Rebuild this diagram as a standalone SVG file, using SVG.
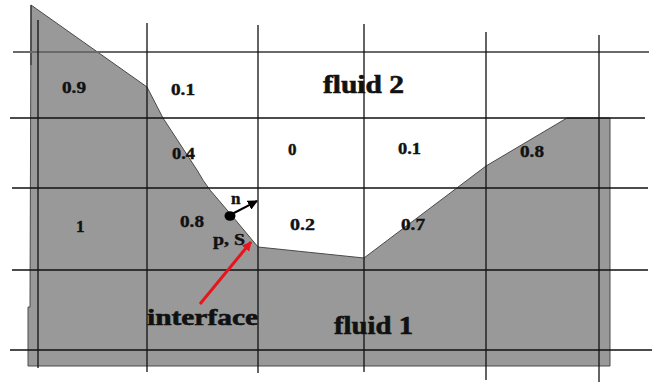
<svg xmlns="http://www.w3.org/2000/svg" width="657" height="383" viewBox="0 0 657 383">
<defs>
<style>
.grid{stroke:#111;stroke-width:1.3;fill:none}
.num{font-family:"Liberation Serif","Times New Roman",serif;font-weight:bold;font-size:17px;fill:#111;stroke:#111;stroke-width:0.4}
.big{font-family:"Liberation Serif","Times New Roman",serif;font-weight:bold;fill:#111;stroke:#111;stroke-width:0.6}
</style>
<marker id="ah" viewBox="0 0 10 10" refX="9" refY="5" markerWidth="5" markerHeight="5" orient="auto" markerUnits="strokeWidth"><path d="M0,0 L10,5 L0,10 z" fill="#000"/></marker>
<marker id="ahr" viewBox="0 0 10 10" refX="9" refY="5" markerWidth="3.2" markerHeight="3.2" orient="auto" markerUnits="strokeWidth"><path d="M0,0 L10,5 L0,10 z" fill="#e8141c"/></marker>
</defs>
<rect width="657" height="383" fill="#fff"/>
<g id="fluid1-region">
<path d="M31,5 L147,87 L163,118 L197,170 Q203,181 210,190 L233,217 L258,247 L364,258 L486,166 L567,118 L610,118 L610,366 L28,366 L28,307 L30,307 Z" fill="#999" stroke="#4a4a4a" stroke-width="1"/>
<line x1="31" y1="5" x2="31" y2="65" stroke="#333" stroke-width="1.2"/>
</g>
<g id="grid">
<line x1="13" y1="52" x2="649" y2="52" stroke="#6a6a6a" stroke-width="2"/>
<line class="grid" x1="10" y1="118" x2="645" y2="118"/>
<line class="grid" x1="12" y1="188" x2="648" y2="188"/>
<line class="grid" x1="12" y1="270" x2="648" y2="270"/>
<line class="grid" x1="10" y1="350" x2="652" y2="350"/>
<line class="grid" x1="38" y1="20" x2="38" y2="368"/>
<line class="grid" x1="147" y1="23" x2="147" y2="372"/>
<line class="grid" x1="258" y1="25" x2="258" y2="373"/>
<line class="grid" x1="364" y1="24" x2="364" y2="372"/>
<line class="grid" x1="486" y1="32" x2="486" y2="380"/>
<line class="grid" x1="599" y1="35" x2="599" y2="382"/>
</g>
<g id="labels">
<text class="num" x="62" y="93" textLength="24" lengthAdjust="spacingAndGlyphs">0.9</text>
<text class="num" x="171" y="95" textLength="24" lengthAdjust="spacingAndGlyphs">0.1</text>
<text class="num" x="172" y="159" textLength="23" lengthAdjust="spacingAndGlyphs">0.4</text>
<text class="num" x="288" y="155">0</text>
<text class="num" x="398" y="154" textLength="23" lengthAdjust="spacingAndGlyphs">0.1</text>
<text class="num" x="520" y="157" textLength="24" lengthAdjust="spacingAndGlyphs">0.8</text>
<text class="num" x="76" y="232">1</text>
<text class="num" x="180" y="227" textLength="24" lengthAdjust="spacingAndGlyphs">0.8</text>
<text class="num" x="290" y="230" textLength="25" lengthAdjust="spacingAndGlyphs">0.2</text>
<text class="num" x="401" y="230" textLength="24" lengthAdjust="spacingAndGlyphs">0.7</text>
<text class="num" x="213" y="245" textLength="32" lengthAdjust="spacingAndGlyphs">p, S</text>
<text class="num" x="231" y="204" font-size="16">n</text>
<text class="big" x="323" y="93" font-size="26" textLength="81" lengthAdjust="spacingAndGlyphs">fluid 2</text>
<text class="big" x="334" y="334" font-size="26" textLength="79" lengthAdjust="spacingAndGlyphs">fluid 1</text>
<text class="big" x="147" y="325" font-size="24" textLength="111" lengthAdjust="spacingAndGlyphs">interface</text>
</g>
<g id="point-p">
<ellipse cx="230" cy="216" rx="5.5" ry="4.8" fill="#000"/>
</g>
<g id="connectors">
<line x1="232" y1="214" x2="257" y2="201" stroke="#000" stroke-width="2" marker-end="url(#ah)"/>
<line x1="200" y1="304" x2="251" y2="242" stroke="#e8141c" stroke-width="3" marker-end="url(#ahr)"/>
</g>
</svg>
